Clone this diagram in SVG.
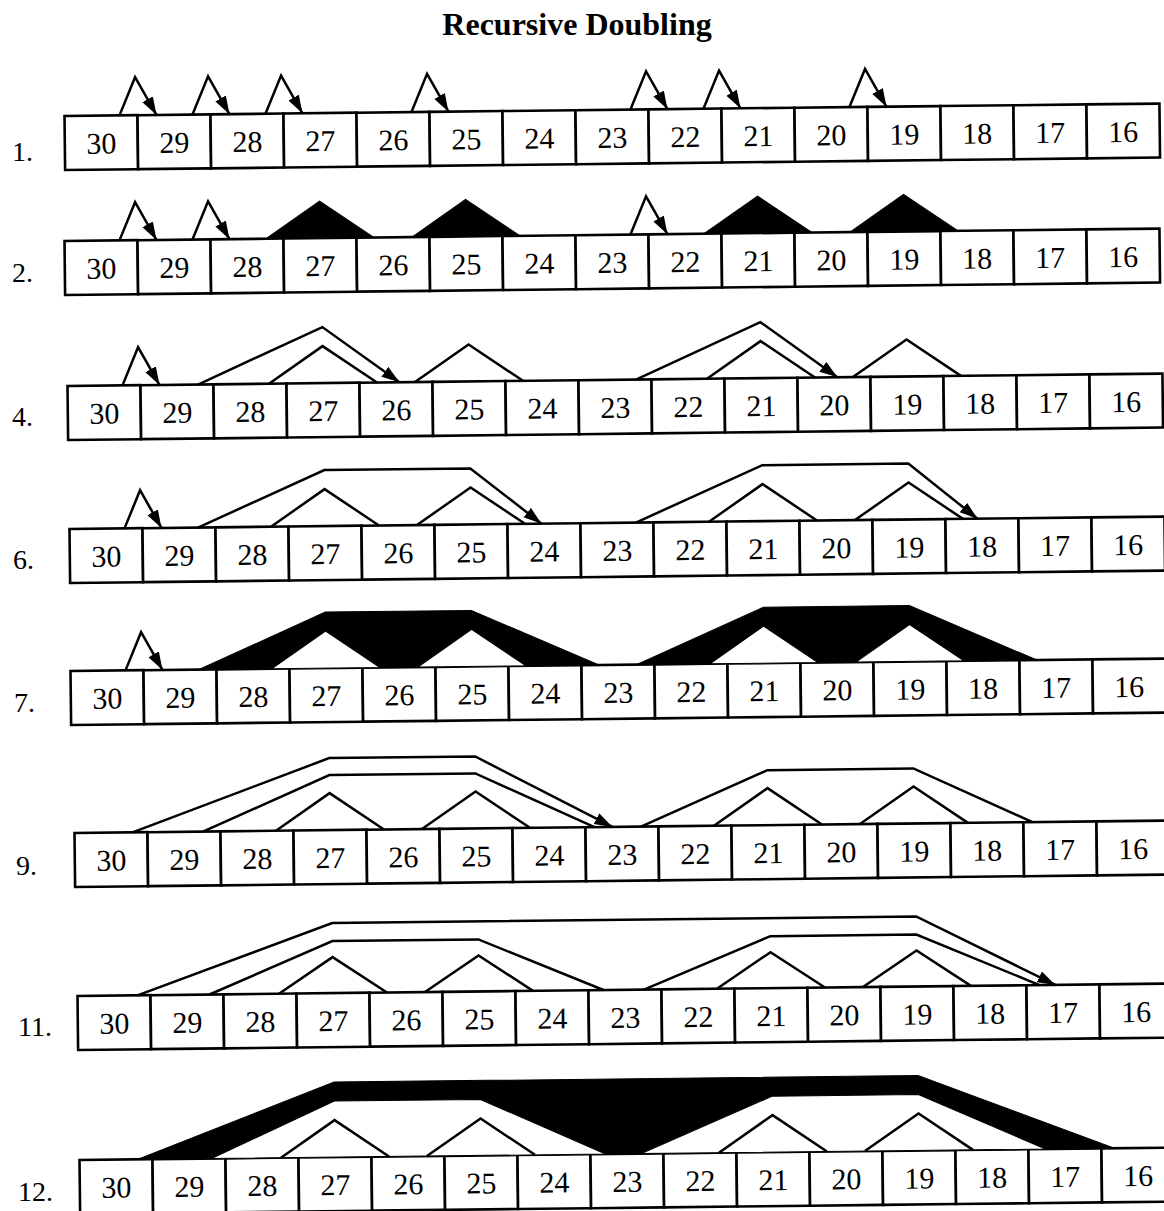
<svg xmlns="http://www.w3.org/2000/svg" width="1164" height="1211" viewBox="0 0 1164 1211">
<defs>
<marker id="ah" markerUnits="userSpaceOnUse" markerWidth="20" markerHeight="14" refX="18" refY="6" orient="auto">
<path d="M0,0 L18,6 L0,12 Z" fill="#000"/>
</marker>
</defs>
<style>
rect{fill:#fff;stroke:#000;stroke-width:2.6}
.row text{font-family:"Liberation Serif","Times New Roman",serif;font-size:30px;text-anchor:middle;fill:#000}
.lab{font-family:"Liberation Serif","Times New Roman",serif;font-size:28px;fill:#000}
.title{font-family:"Liberation Serif","Times New Roman",serif;font-size:32px;font-weight:bold;text-anchor:middle;fill:#000}
.ln{fill:none;stroke:#000;stroke-width:2.5;stroke-linejoin:miter}
.arr{marker-end:url(#ah)}
.blk{fill:#000;stroke:#000;stroke-width:1}
.wt{fill:#fff;stroke:#000;stroke-width:2.5}
</style>
<rect x="0" y="0" width="1164" height="1211" style="stroke:none"/>
<text class="title" x="577" y="35">Recursive Doubling</text>

<text class="lab" x="12" y="161">1.</text>
<text class="lab" x="12" y="282">2.</text>
<text class="lab" x="12" y="426">4.</text>
<text class="lab" x="13" y="569">6.</text>
<text class="lab" x="14" y="712">7.</text>
<text class="lab" x="16" y="875">9.</text>
<text class="lab" x="18" y="1036">11.</text>
<text class="lab" x="18" y="1201">12.</text>

<!-- Row 1 -->
<g class="row" id="row1" transform="translate(64.5,116) rotate(-0.65)">
<g id="r1-30"><rect x="0" width="73" height="54"/><text x="36.5" y="38">30</text></g>
<g id="r1-29"><rect x="73" width="73" height="54"/><text x="109.5" y="38">29</text></g>
<g id="r1-28"><rect x="146" width="73" height="54"/><text x="182.5" y="38">28</text></g>
<g id="r1-27"><rect x="219" width="73" height="54"/><text x="255.5" y="38">27</text></g>
<g id="r1-26"><rect x="292" width="73" height="54"/><text x="328.5" y="38">26</text></g>
<g id="r1-25"><rect x="365" width="73" height="54"/><text x="401.5" y="38">25</text></g>
<g id="r1-24"><rect x="438" width="73" height="54"/><text x="474.5" y="38">24</text></g>
<g id="r1-23"><rect x="511" width="73" height="54"/><text x="547.5" y="38">23</text></g>
<g id="r1-22"><rect x="584" width="73" height="54"/><text x="620.5" y="38">22</text></g>
<g id="r1-21"><rect x="657" width="73" height="54"/><text x="693.5" y="38">21</text></g>
<g id="r1-20"><rect x="730" width="73" height="54"/><text x="766.5" y="38">20</text></g>
<g id="r1-19"><rect x="803" width="73" height="54"/><text x="839.5" y="38">19</text></g>
<g id="r1-18"><rect x="876" width="73" height="54"/><text x="912.5" y="38">18</text></g>
<g id="r1-17"><rect x="949" width="73" height="54"/><text x="985.5" y="38">17</text></g>
<g id="r1-16"><rect x="1022" width="73" height="54"/><text x="1058.5" y="38">16</text></g>
<g id="r1-conn">
<path class="ln arr" d="M55 0 L71 -38 L92 0"/>
<path class="ln arr" d="M128 0 L144 -38 L165 0"/>
<path class="ln arr" d="M201 0 L217 -38 L238 0"/>
<path class="ln arr" d="M347 0 L363 -38 L384 0"/>
<path class="ln arr" d="M566 0 L582 -38 L603 0"/>
<path class="ln arr" d="M639 0 L655 -38 L676 0"/>
<path class="ln arr" d="M785 0 L801 -38 L822 0"/>
</g>
</g>

<!-- Row 2 -->
<g class="row" id="row2" transform="translate(64.5,241) rotate(-0.65)">
<g id="r2-30"><rect x="0" width="73" height="54"/><text x="36.5" y="38">30</text></g>
<g id="r2-29"><rect x="73" width="73" height="54"/><text x="109.5" y="38">29</text></g>
<g id="r2-28"><rect x="146" width="73" height="54"/><text x="182.5" y="38">28</text></g>
<g id="r2-27"><rect x="219" width="73" height="54"/><text x="255.5" y="38">27</text></g>
<g id="r2-26"><rect x="292" width="73" height="54"/><text x="328.5" y="38">26</text></g>
<g id="r2-25"><rect x="365" width="73" height="54"/><text x="401.5" y="38">25</text></g>
<g id="r2-24"><rect x="438" width="73" height="54"/><text x="474.5" y="38">24</text></g>
<g id="r2-23"><rect x="511" width="73" height="54"/><text x="547.5" y="38">23</text></g>
<g id="r2-22"><rect x="584" width="73" height="54"/><text x="620.5" y="38">22</text></g>
<g id="r2-21"><rect x="657" width="73" height="54"/><text x="693.5" y="38">21</text></g>
<g id="r2-20"><rect x="730" width="73" height="54"/><text x="766.5" y="38">20</text></g>
<g id="r2-19"><rect x="803" width="73" height="54"/><text x="839.5" y="38">19</text></g>
<g id="r2-18"><rect x="876" width="73" height="54"/><text x="912.5" y="38">18</text></g>
<g id="r2-17"><rect x="949" width="73" height="54"/><text x="985.5" y="38">17</text></g>
<g id="r2-16"><rect x="1022" width="73" height="54"/><text x="1058.5" y="38">16</text></g>
<g id="r2-conn">
<path class="ln arr" d="M55 0 L71 -38 L92 0"/>
<path class="ln arr" d="M128 0 L144 -38 L165 0"/>
<path class="ln arr" d="M566 0 L582 -38 L603 0"/>
<path class="blk" d="M201.5 0 L255.5 -37 L309.5 0 Z"/>
<path class="blk" d="M347.5 0 L401.5 -37 L455.5 0 Z"/>
<path class="blk" d="M639.5 0 L693.5 -37 L747.5 0 Z"/>
<path class="blk" d="M785.5 0 L839.5 -37 L893.5 0 Z"/>
</g>
</g>

<!-- Row 4 -->
<g class="row" id="row4" transform="translate(67.5,386) rotate(-0.65)">
<g id="r4-30"><rect x="0" width="73" height="54"/><text x="36.5" y="38">30</text></g>
<g id="r4-29"><rect x="73" width="73" height="54"/><text x="109.5" y="38">29</text></g>
<g id="r4-28"><rect x="146" width="73" height="54"/><text x="182.5" y="38">28</text></g>
<g id="r4-27"><rect x="219" width="73" height="54"/><text x="255.5" y="38">27</text></g>
<g id="r4-26"><rect x="292" width="73" height="54"/><text x="328.5" y="38">26</text></g>
<g id="r4-25"><rect x="365" width="73" height="54"/><text x="401.5" y="38">25</text></g>
<g id="r4-24"><rect x="438" width="73" height="54"/><text x="474.5" y="38">24</text></g>
<g id="r4-23"><rect x="511" width="73" height="54"/><text x="547.5" y="38">23</text></g>
<g id="r4-22"><rect x="584" width="73" height="54"/><text x="620.5" y="38">22</text></g>
<g id="r4-21"><rect x="657" width="73" height="54"/><text x="693.5" y="38">21</text></g>
<g id="r4-20"><rect x="730" width="73" height="54"/><text x="766.5" y="38">20</text></g>
<g id="r4-19"><rect x="803" width="73" height="54"/><text x="839.5" y="38">19</text></g>
<g id="r4-18"><rect x="876" width="73" height="54"/><text x="912.5" y="38">18</text></g>
<g id="r4-17"><rect x="949" width="73" height="54"/><text x="985.5" y="38">17</text></g>
<g id="r4-16"><rect x="1022" width="73" height="54"/><text x="1058.5" y="38">16</text></g>
<g id="r4-conn">
<path class="ln arr" d="M55 0 L71 -38 L92 0"/>
<path class="ln" d="M201.5 0 L255.5 -37 L309.5 0"/>
<path class="ln" d="M347.5 0 L401.5 -37 L455.5 0"/>
<path class="ln" d="M639.5 0 L693.5 -37 L747.5 0"/>
<path class="ln" d="M785.5 0 L839.5 -37 L893.5 0"/>
<path class="ln arr" d="M130.5 0 L255.5 -56 L332 0"/>
<path class="ln arr" d="M568.5 0 L693.5 -56 L770 0"/>
</g>
</g>

<!-- Row 6 -->
<g class="row" id="row6" transform="translate(69.5,529) rotate(-0.65)">
<g id="r6-30"><rect x="0" width="73" height="54"/><text x="36.5" y="38">30</text></g>
<g id="r6-29"><rect x="73" width="73" height="54"/><text x="109.5" y="38">29</text></g>
<g id="r6-28"><rect x="146" width="73" height="54"/><text x="182.5" y="38">28</text></g>
<g id="r6-27"><rect x="219" width="73" height="54"/><text x="255.5" y="38">27</text></g>
<g id="r6-26"><rect x="292" width="73" height="54"/><text x="328.5" y="38">26</text></g>
<g id="r6-25"><rect x="365" width="73" height="54"/><text x="401.5" y="38">25</text></g>
<g id="r6-24"><rect x="438" width="73" height="54"/><text x="474.5" y="38">24</text></g>
<g id="r6-23"><rect x="511" width="73" height="54"/><text x="547.5" y="38">23</text></g>
<g id="r6-22"><rect x="584" width="73" height="54"/><text x="620.5" y="38">22</text></g>
<g id="r6-21"><rect x="657" width="73" height="54"/><text x="693.5" y="38">21</text></g>
<g id="r6-20"><rect x="730" width="73" height="54"/><text x="766.5" y="38">20</text></g>
<g id="r6-19"><rect x="803" width="73" height="54"/><text x="839.5" y="38">19</text></g>
<g id="r6-18"><rect x="876" width="73" height="54"/><text x="912.5" y="38">18</text></g>
<g id="r6-17"><rect x="949" width="73" height="54"/><text x="985.5" y="38">17</text></g>
<g id="r6-16"><rect x="1022" width="73" height="54"/><text x="1058.5" y="38">16</text></g>
<g id="r6-conn">
<path class="ln arr" d="M55 0 L71 -38 L92 0"/>
<path class="ln" d="M201.5 0 L255.5 -37 L309.5 0"/>
<path class="ln" d="M347.5 0 L401.5 -37 L455.5 0"/>
<path class="ln" d="M639.5 0 L693.5 -37 L747.5 0"/>
<path class="ln" d="M785.5 0 L839.5 -37 L893.5 0"/>
<path class="ln arr" d="M128.5 0 L255.5 -56 L401.5 -56 L472 0"/>
<path class="ln arr" d="M566.5 0 L693.5 -56 L839.5 -56 L908 0"/>
</g>
</g>

<!-- Row 7 -->
<g class="row" id="row7" transform="translate(70.5,671) rotate(-0.65)">
<g id="r7-30"><rect x="0" width="73" height="54"/><text x="36.5" y="38">30</text></g>
<g id="r7-29"><rect x="73" width="73" height="54"/><text x="109.5" y="38">29</text></g>
<g id="r7-28"><rect x="146" width="73" height="54"/><text x="182.5" y="38">28</text></g>
<g id="r7-27"><rect x="219" width="73" height="54"/><text x="255.5" y="38">27</text></g>
<g id="r7-26"><rect x="292" width="73" height="54"/><text x="328.5" y="38">26</text></g>
<g id="r7-25"><rect x="365" width="73" height="54"/><text x="401.5" y="38">25</text></g>
<g id="r7-24"><rect x="438" width="73" height="54"/><text x="474.5" y="38">24</text></g>
<g id="r7-23"><rect x="511" width="73" height="54"/><text x="547.5" y="38">23</text></g>
<g id="r7-22"><rect x="584" width="73" height="54"/><text x="620.5" y="38">22</text></g>
<g id="r7-21"><rect x="657" width="73" height="54"/><text x="693.5" y="38">21</text></g>
<g id="r7-20"><rect x="730" width="73" height="54"/><text x="766.5" y="38">20</text></g>
<g id="r7-19"><rect x="803" width="73" height="54"/><text x="839.5" y="38">19</text></g>
<g id="r7-18"><rect x="876" width="73" height="54"/><text x="912.5" y="38">18</text></g>
<g id="r7-17"><rect x="949" width="73" height="54"/><text x="985.5" y="38">17</text></g>
<g id="r7-16"><rect x="1022" width="73" height="54"/><text x="1058.5" y="38">16</text></g>
<g id="r7-conn">
<path class="ln arr" d="M55 0 L71 -38 L92 0"/>
<path class="blk" d="M128.5 0 L255.5 -56 L401.5 -56 L528.5 0 Z"/>
<path class="blk" d="M566.5 0 L693.5 -56 L839.5 -56 L966.5 0 Z"/>
<path class="wt" d="M201.5 0 L255.5 -37 L309.5 0 Z" style="stroke-width:1"/>
<path class="wt" d="M347.5 0 L401.5 -37 L455.5 0 Z" style="stroke-width:1"/>
<path class="wt" d="M639.5 0 L693.5 -37 L747.5 0 Z" style="stroke-width:1"/>
<path class="wt" d="M785.5 0 L839.5 -37 L893.5 0 Z" style="stroke-width:1"/>
</g>
</g>

<!-- Row 9 -->
<g class="row" id="row9" transform="translate(74.5,833) rotate(-0.65)">
<g id="r9-30"><rect x="0" width="73" height="54"/><text x="36.5" y="38">30</text></g>
<g id="r9-29"><rect x="73" width="73" height="54"/><text x="109.5" y="38">29</text></g>
<g id="r9-28"><rect x="146" width="73" height="54"/><text x="182.5" y="38">28</text></g>
<g id="r9-27"><rect x="219" width="73" height="54"/><text x="255.5" y="38">27</text></g>
<g id="r9-26"><rect x="292" width="73" height="54"/><text x="328.5" y="38">26</text></g>
<g id="r9-25"><rect x="365" width="73" height="54"/><text x="401.5" y="38">25</text></g>
<g id="r9-24"><rect x="438" width="73" height="54"/><text x="474.5" y="38">24</text></g>
<g id="r9-23"><rect x="511" width="73" height="54"/><text x="547.5" y="38">23</text></g>
<g id="r9-22"><rect x="584" width="73" height="54"/><text x="620.5" y="38">22</text></g>
<g id="r9-21"><rect x="657" width="73" height="54"/><text x="693.5" y="38">21</text></g>
<g id="r9-20"><rect x="730" width="73" height="54"/><text x="766.5" y="38">20</text></g>
<g id="r9-19"><rect x="803" width="73" height="54"/><text x="839.5" y="38">19</text></g>
<g id="r9-18"><rect x="876" width="73" height="54"/><text x="912.5" y="38">18</text></g>
<g id="r9-17"><rect x="949" width="73" height="54"/><text x="985.5" y="38">17</text></g>
<g id="r9-16"><rect x="1022" width="73" height="54"/><text x="1058.5" y="38">16</text></g>
<g id="r9-conn">
<path class="ln" d="M201.5 0 L255.5 -37 L309.5 0"/>
<path class="ln" d="M347.5 0 L401.5 -37 L455.5 0"/>
<path class="ln" d="M639.5 0 L693.5 -37 L747.5 0"/>
<path class="ln" d="M785.5 0 L839.5 -37 L893.5 0"/>
<path class="ln" d="M128.5 0 L255.5 -55 L401.5 -55 L520 0"/>
<path class="ln" d="M566.5 0 L693.5 -55 L839.5 -55 L958 0"/>
<path class="ln arr" d="M58 0 L255.5 -72 L401.5 -72 L538 0"/>
</g>
</g>

<!-- Row 11 -->
<g class="row" id="row11" transform="translate(77.5,996) rotate(-0.65)">
<g id="r11-30"><rect x="0" width="73" height="54"/><text x="36.5" y="38">30</text></g>
<g id="r11-29"><rect x="73" width="73" height="54"/><text x="109.5" y="38">29</text></g>
<g id="r11-28"><rect x="146" width="73" height="54"/><text x="182.5" y="38">28</text></g>
<g id="r11-27"><rect x="219" width="73" height="54"/><text x="255.5" y="38">27</text></g>
<g id="r11-26"><rect x="292" width="73" height="54"/><text x="328.5" y="38">26</text></g>
<g id="r11-25"><rect x="365" width="73" height="54"/><text x="401.5" y="38">25</text></g>
<g id="r11-24"><rect x="438" width="73" height="54"/><text x="474.5" y="38">24</text></g>
<g id="r11-23"><rect x="511" width="73" height="54"/><text x="547.5" y="38">23</text></g>
<g id="r11-22"><rect x="584" width="73" height="54"/><text x="620.5" y="38">22</text></g>
<g id="r11-21"><rect x="657" width="73" height="54"/><text x="693.5" y="38">21</text></g>
<g id="r11-20"><rect x="730" width="73" height="54"/><text x="766.5" y="38">20</text></g>
<g id="r11-19"><rect x="803" width="73" height="54"/><text x="839.5" y="38">19</text></g>
<g id="r11-18"><rect x="876" width="73" height="54"/><text x="912.5" y="38">18</text></g>
<g id="r11-17"><rect x="949" width="73" height="54"/><text x="985.5" y="38">17</text></g>
<g id="r11-16"><rect x="1022" width="73" height="54"/><text x="1058.5" y="38">16</text></g>
<g id="r11-conn">
<path class="ln" d="M201.5 0 L255.5 -36 L309.5 0"/>
<path class="ln" d="M347.5 0 L401.5 -36 L455.5 0"/>
<path class="ln" d="M639.5 0 L693.5 -36 L747.5 0"/>
<path class="ln" d="M785.5 0 L839.5 -36 L893.5 0"/>
<path class="ln" d="M132 0 L255.5 -52 L401.5 -52 L526 0"/>
<path class="ln" d="M566.5 0 L693.5 -52 L839.5 -52 L962 0"/>
<path class="ln arr" d="M60 0 L255.5 -70 L839.5 -70 L978 0"/>
</g>
</g>

<!-- Row 12 -->
<g class="row" id="row12" transform="translate(79.5,1160) rotate(-0.65)">
<g id="r12-30"><rect x="0" width="73" height="54"/><text x="36.5" y="38">30</text></g>
<g id="r12-29"><rect x="73" width="73" height="54"/><text x="109.5" y="38">29</text></g>
<g id="r12-28"><rect x="146" width="73" height="54"/><text x="182.5" y="38">28</text></g>
<g id="r12-27"><rect x="219" width="73" height="54"/><text x="255.5" y="38">27</text></g>
<g id="r12-26"><rect x="292" width="73" height="54"/><text x="328.5" y="38">26</text></g>
<g id="r12-25"><rect x="365" width="73" height="54"/><text x="401.5" y="38">25</text></g>
<g id="r12-24"><rect x="438" width="73" height="54"/><text x="474.5" y="38">24</text></g>
<g id="r12-23"><rect x="511" width="73" height="54"/><text x="547.5" y="38">23</text></g>
<g id="r12-22"><rect x="584" width="73" height="54"/><text x="620.5" y="38">22</text></g>
<g id="r12-21"><rect x="657" width="73" height="54"/><text x="693.5" y="38">21</text></g>
<g id="r12-20"><rect x="730" width="73" height="54"/><text x="766.5" y="38">20</text></g>
<g id="r12-19"><rect x="803" width="73" height="54"/><text x="839.5" y="38">19</text></g>
<g id="r12-18"><rect x="876" width="73" height="54"/><text x="912.5" y="38">18</text></g>
<g id="r12-17"><rect x="949" width="73" height="54"/><text x="985.5" y="38">17</text></g>
<g id="r12-16"><rect x="1022" width="73" height="54"/><text x="1058.5" y="38">16</text></g>
<g id="r12-conn">
<path class="blk" d="M58 0 L255.5 -75 L839.5 -75 L1035 0 Z"/>
<path class="wt" d="M132 0 L255.5 -56 L401.5 -56 L526 0 Z" style="stroke-width:1"/>
<path class="wt" d="M562 0 L693.5 -56 L839.5 -56 L966 0 Z" style="stroke-width:1"/>
<path class="ln" d="M201.5 0 L255.5 -37 L309.5 0"/>
<path class="ln" d="M347.5 0 L401.5 -37 L455.5 0"/>
<path class="ln" d="M639.5 0 L693.5 -37 L747.5 0"/>
<path class="ln" d="M785.5 0 L839.5 -37 L893.5 0"/>
</g>
</g>
</svg>
